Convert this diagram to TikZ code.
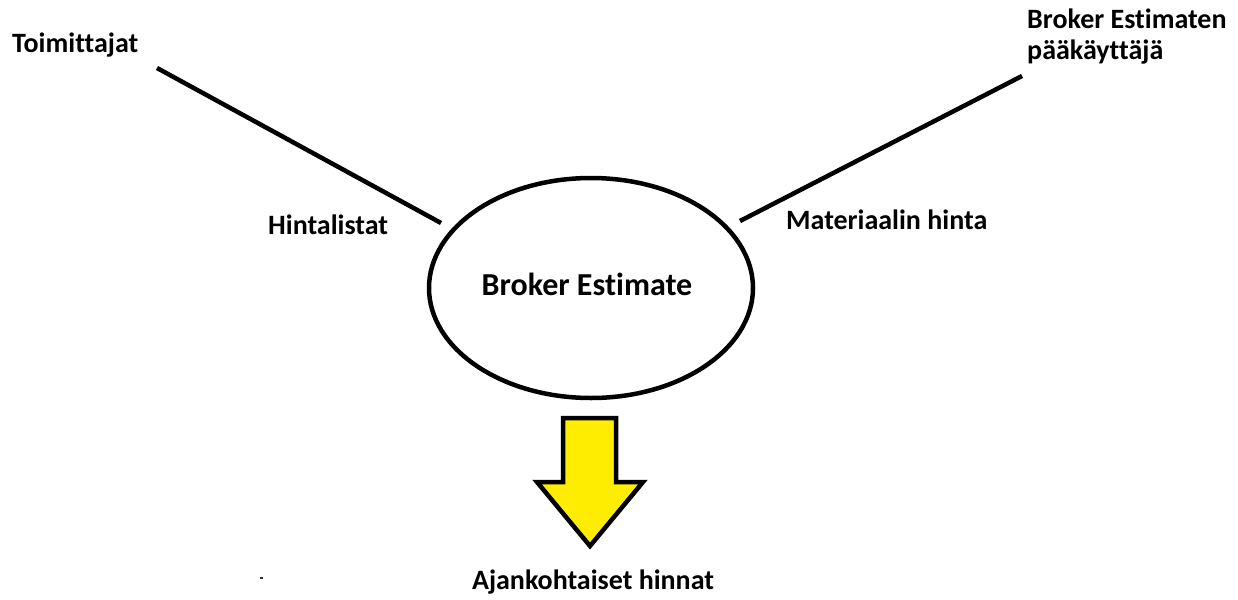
\documentclass[tikz,border=0pt]{standalone}
\usepackage{fontspec}
\setmainfont[Ligatures=NoCommon]{Carlito}
\usetikzlibrary{shapes.geometric}
\begin{document}
\begin{tikzpicture}[x=1pt,y=-1pt,
  lbl/.style={font=\bfseries\fontsize{28}{31}\selectfont, inner sep=0pt, anchor=west, text=black},
  conn/.style={line width=4.5pt, black},
]
\useasboundingbox[fill=white] (0,0) rectangle (1238,599);
\node[ellipse, draw, line width=4.5pt, minimum width=324pt, minimum height=220pt, inner sep=0pt] (be) at (591,288) {};
\node[font=\bfseries\fontsize{32}{38}\selectfont, inner sep=0pt] (betext) at (587,284) {Broker Estimate};
\node[lbl] (toim) at (12,45) {Toimittajat};
\node[lbl] (hinta) at (268,225) {Hintalistat};
\node[lbl] (mat) at (786,220) {Materiaalin hinta};
\node[lbl, align=left] (admin) at (1027,37) {Broker Estimaten\\pääkäyttäjä};
\node[lbl, anchor=center] (ajan) at (593,582) {Ajankohtaiset hinnat};
\coordinate (l1a) at (157,68);
\coordinate (l1b) at (441,223);
\coordinate (l2a) at (740,221);
\coordinate (l2b) at (1022,76);
\draw[conn] (l1a) -- (l1b);
\draw[conn] (l2a) -- (l2b);
\draw[line width=4.5pt, fill=yellow!95!orange, line join=miter]
  (563,418) -- (616,418) -- (616,482) -- (643,482) -- (590,546) -- (537,482) -- (563,482) -- cycle;
\fill[black!80] (259.5,577) rectangle (262.5,579);
\end{tikzpicture}
\end{document}
